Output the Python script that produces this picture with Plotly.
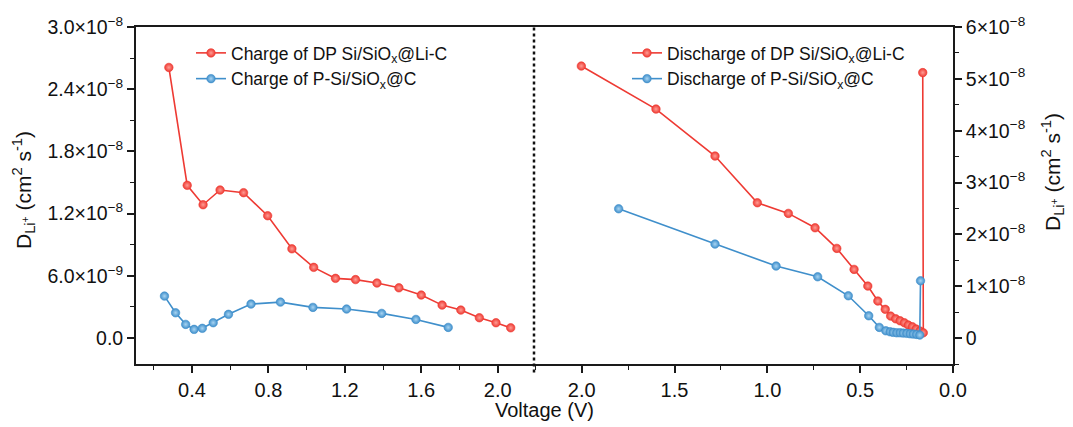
import plotly.graph_objects as go

# ---------------- data ----------------
charge_dp_v = [0.279, 0.375, 0.458, 0.547, 0.670, 0.796, 0.923, 1.037, 1.151, 1.256,
               1.368, 1.483, 1.600, 1.709, 1.807, 1.904, 1.991, 2.068]
charge_dp_d = [2.61e-8, 1.473e-8, 1.286e-8, 1.428e-8, 1.402e-8, 1.180e-8, 8.61e-9, 6.82e-9,
               5.76e-9, 5.64e-9, 5.31e-9, 4.85e-9, 4.15e-9, 3.18e-9, 2.70e-9, 1.96e-9,
               1.48e-9, 0.99e-9]

charge_p_v = [0.256, 0.314, 0.367, 0.411, 0.454, 0.511, 0.591, 0.709, 0.863, 1.033,
              1.209, 1.393, 1.572, 1.741]
charge_p_d = [4.05e-9, 2.44e-9, 1.32e-9, 0.84e-9, 0.94e-9, 1.48e-9, 2.29e-9, 3.28e-9,
              3.47e-9, 2.96e-9, 2.80e-9, 2.38e-9, 1.80e-9, 1.03e-9]

discharge_dp_v = [2.002, 1.600, 1.282, 1.054, 0.887, 0.743, 0.626, 0.533, 0.459, 0.405,
                  0.365, 0.336, 0.309, 0.285, 0.262, 0.241, 0.219, 0.199, 0.178, 0.160,
                  0.163]
discharge_dp_d = [5.247e-8, 4.417e-8, 3.511e-8, 2.610e-8, 2.405e-8, 2.128e-8, 1.730e-8,
                  1.325e-8, 1.003e-8, 7.14e-9, 5.54e-9, 4.24e-9, 3.72e-9, 3.34e-9, 2.95e-9,
                  2.51e-9, 2.18e-9, 1.74e-9, 1.35e-9, 1.02e-9, 5.12e-8]

discharge_p_v = [1.801, 1.282, 0.953, 0.729, 0.564, 0.454, 0.397, 0.362, 0.339, 0.322,
                 0.303, 0.285, 0.268, 0.249, 0.231, 0.214, 0.196, 0.179, 0.175]
discharge_p_d = [2.494e-8, 1.813e-8, 1.389e-8, 1.182e-8, 8.16e-9, 4.30e-9, 2.06e-9, 1.41e-9,
                 1.22e-9, 1.10e-9, 1.02e-9, 1.02e-9, 0.96e-9, 0.91e-9, 0.83e-9, 0.77e-9,
                 0.71e-9, 0.58e-9, 1.105e-8]

left_y_ticks = [0, 6e-9, 1.2e-8, 1.8e-8, 2.4e-8, 3.0e-8]
left_y_text = ["0.0", "6.0×10<sup>−9</sup>", "1.2×10<sup>−8</sup>", "1.8×10<sup>−8</sup>",
               "2.4×10<sup>−8</sup>", "3.0×10<sup>−8</sup>"]
right_y_ticks = [0, 1e-8, 2e-8, 3e-8, 4e-8, 5e-8, 6e-8]
right_y_text = ["0", "1×10<sup>−8</sup>", "2×10<sup>−8</sup>", "3×10<sup>−8</sup>",
                "4×10<sup>−8</sup>", "5×10<sup>−8</sup>", "6×10<sup>−8</sup>"]
left_x_ticks = [0.4, 0.8, 1.2, 1.6, 2.0]
right_x_ticks = [2.0, 1.5, 1.0, 0.5, 0.0]

# ---------------- styling ----------------
RED = "#EE3A33"
RED_HI = "#FF9C94"
BLUE = "#3F8FCB"
BLUE_HI = "#A8D4F2"
AX = "#1a1a1a"
FONT = "Arial, Liberation Sans, sans-serif"

W, H = 1073, 427
ML, MR, MT, MB = 136, 120, 27, 63
PW = W - ML - MR
PH = H - MT - MB
split_px = 534
split = (split_px - ML) / PW


def mk(color, hi):
    return dict(size=8.5, color=color, gradient=dict(type="radial", color=hi),
                line=dict(width=0.6, color=color))


fig = go.Figure()
fig.add_trace(go.Scatter(x=charge_dp_v, y=charge_dp_d, mode="lines+markers",
                         name="Charge of DP Si/SiO<sub>x</sub>@Li-C",
                         line=dict(color=RED, width=1.6), marker=mk(RED, RED_HI),
                         xaxis="x", yaxis="y", legend="legend"))
fig.add_trace(go.Scatter(x=charge_p_v, y=charge_p_d, mode="lines+markers",
                         name="Charge of P-Si/SiO<sub>x</sub>@C",
                         line=dict(color=BLUE, width=1.6), marker=mk(BLUE, BLUE_HI),
                         xaxis="x", yaxis="y", legend="legend"))
fig.add_trace(go.Scatter(x=discharge_dp_v, y=discharge_dp_d, mode="lines+markers",
                         name="Discharge of DP Si/SiO<sub>x</sub>@Li-C",
                         line=dict(color=RED, width=1.6), marker=mk(RED, RED_HI),
                         xaxis="x2", yaxis="y2", legend="legend2"))
fig.add_trace(go.Scatter(x=discharge_p_v, y=discharge_p_d, mode="lines+markers",
                         name="Discharge of P-Si/SiO<sub>x</sub>@C",
                         line=dict(color=BLUE, width=1.6), marker=mk(BLUE, BLUE_HI),
                         xaxis="x2", yaxis="y2", legend="legend2"))

common_ax = dict(showline=True, linecolor=AX, linewidth=1.8, showgrid=False,
                 zeroline=False, ticks="outside", tickcolor=AX, tickwidth=1.5,
                 ticklen=7)

fig.update_layout(
    width=W, height=H,
    margin=dict(l=ML, r=MR, t=MT, b=MB),
    plot_bgcolor="white", paper_bgcolor="white",
    font=dict(family=FONT, color="#111"),
    xaxis=dict(**common_ax, domain=[0, split], range=[0.107, 2.19], anchor="y",
               mirror=True, tickvals=left_x_ticks, tickformat=".1f",
               tickfont=dict(size=20),
               minor=dict(tickmode="linear", tick0=0, dtick=0.2, ticklen=4,
                          tickcolor=AX, tickwidth=1.3, ticks="outside", showgrid=False)),
    xaxis2=dict(**common_ax, domain=[split, 1], range=[2.257, 0], anchor="y2",
                mirror=True, tickvals=right_x_ticks, tickformat=".1f",
                tickfont=dict(size=20),
                minor=dict(tickmode="linear", tick0=0, dtick=0.25, ticklen=4,
                           tickcolor=AX, tickwidth=1.3, ticks="outside", showgrid=False)),
    yaxis=dict(**common_ax, domain=[0, 1], range=[-2.5e-9, 3.0e-8], anchor="x",
               side="left", tickvals=left_y_ticks, ticktext=left_y_text,
               tickfont=dict(size=19.5),
               minor=dict(tickmode="linear", tick0=0, dtick=3e-9, ticklen=4,
                          tickcolor=AX, tickwidth=1.3, ticks="outside", showgrid=False)),
    yaxis2=dict(**common_ax, domain=[0, 1], range=[-5e-9, 6e-8], anchor="x2",
                side="right", tickvals=right_y_ticks, ticktext=right_y_text,
                tickfont=dict(size=19.5),
                minor=dict(tickmode="linear", tick0=0, dtick=5e-9, ticklen=4,
                           tickcolor=AX, tickwidth=1.3, ticks="outside", showgrid=False)),
    legend=dict(x=(191 - ML) / PW, y=1 - (35 - MT) / PH, xanchor="left", yanchor="top",
                bgcolor="rgba(0,0,0,0)", font=dict(size=17.5, family=FONT, color="#111"),
                tracegroupgap=0, itemwidth=30),
    legend2=dict(x=(627 - ML) / PW, y=1 - (35 - MT) / PH, xanchor="left", yanchor="top",
                 bgcolor="rgba(0,0,0,0)", font=dict(size=17.5, family=FONT, color="#111"),
                 tracegroupgap=0, itemwidth=30),
    showlegend=True,
)

# dotted divider between panels
fig.add_shape(type="line", xref="paper", yref="paper", x0=split, x1=split, y0=-0.025, y1=1,
              line=dict(color="#111", width=2.5, dash="dot"))

# axis titles
fig.add_annotation(text="Voltage (V)", xref="paper", yref="paper", x=0.5,
                   y=-(410 - (MT + PH)) / PH, showarrow=False, yanchor="middle",
                   font=dict(size=20, family=FONT, color="#111"))
ytitle = "D<sub>Li<sup>+</sup></sub> (cm<sup>2</sup> s<sup>-1</sup>)"
fig.add_annotation(text=ytitle, xref="paper", yref="paper", x=-(ML - 24) / PW,
                   y=1 - (190 - MT) / PH, showarrow=False, textangle=-90,
                   xanchor="center", yanchor="middle",
                   font=dict(size=21, family=FONT, color="#111"))
fig.add_annotation(text=ytitle, xref="paper", yref="paper", x=1 + (1052 - (ML + PW)) / PW,
                   y=1 - (172 - MT) / PH, showarrow=False, textangle=-90,
                   xanchor="center", yanchor="middle",
                   font=dict(size=21, family=FONT, color="#111"))

fig.write_html("out.html")
